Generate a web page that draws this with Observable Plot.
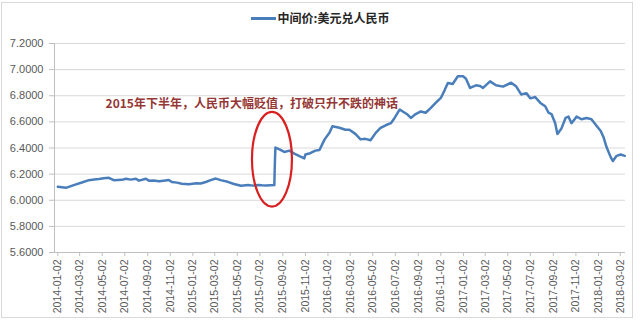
<!DOCTYPE html>
<html><head><meta charset="utf-8">
<script src="https://cdn.jsdelivr.net/npm/d3@7"></script>
<script src="https://cdn.jsdelivr.net/npm/@observablehq/plot@0.6"></script>
<style>
body{margin:0;background:#fff;width:640px;height:324px;overflow:hidden;position:relative;font-family:"Liberation Sans",Arial,sans-serif}
#frame{position:absolute;left:1px;top:2px;width:632px;height:316px;border:1px solid #d9d9d9;box-sizing:border-box}
#legend{position:absolute;top:9px;left:0;width:640px;text-align:center;font:bold 12px "Noto Sans CJK SC",sans-serif;color:#262626;line-height:18px}
#legend .sw{display:inline-block;width:25px;height:3px;background:#4A7EBB;vertical-align:middle;margin-right:2px;position:relative;top:-1px}
#chart{position:absolute;top:32px;left:0}
#chart svg g[aria-label^="x-axis"] text{font-size:10.5px}
#chart svg g[aria-label$="tick"] path, #chart svg g[aria-label$="axis"] line{stroke:#bfbfbf}
</style></head><body>
<div id="frame"></div>
<div id="legend"><span class="sw"></span><span id="legendText"></span></div>
<div id="chart"></div>
<script>
const seriesName = "中间价:美元兑人民币";
const dates = [
"2014-01-02","2014-01-24","2014-02-14","2014-03-08","2014-03-27","2014-04-10","2014-04-23","2014-05-06","2014-05-20",
"2014-06-02","2014-06-24","2014-07-05","2014-07-18","2014-08-01","2014-08-09","2014-08-28","2014-09-05","2014-09-18",
"2014-10-02","2014-10-15","2014-10-29","2014-11-06","2014-11-20","2014-12-03","2014-12-22","2015-01-12","2015-01-23",
"2015-02-06","2015-02-19","2015-03-05","2015-03-18","2015-04-06","2015-04-23","2015-05-12","2015-05-31","2015-06-14",
"2015-06-27","2015-07-08","2015-07-19","2015-08-10","2015-08-11","2015-08-12","2015-08-13","2015-08-24","2015-09-06",
"2015-09-20","2015-10-03","2015-10-17","2015-10-30","2015-11-02","2015-11-15","2015-11-29","2015-12-10","2015-12-24",
"2016-01-06","2016-01-14","2016-02-02","2016-02-18","2016-02-29","2016-03-16","2016-03-30","2016-04-12","2016-04-26",
"2016-05-10","2016-05-23","2016-06-06","2016-06-20","2016-06-30","2016-07-14","2016-07-22","2016-08-04","2016-08-13",
"2016-08-26","2016-09-09","2016-09-22","2016-10-06","2016-10-19","2016-11-02","2016-11-13","2016-11-21","2016-12-04",
"2016-12-18","2017-01-01","2017-01-09","2017-01-20","2017-02-05","2017-02-16","2017-02-24","2017-03-15","2017-03-31",
"2017-04-19","2017-05-11","2017-05-25","2017-06-07","2017-06-21","2017-07-02","2017-07-15","2017-07-29","2017-08-11",
"2017-08-20","2017-08-28","2017-09-07","2017-09-13","2017-09-24","2017-10-05","2017-10-13","2017-10-21","2017-11-04",
"2017-11-17","2017-12-01","2017-12-14","2017-12-25","2018-01-08","2018-01-16","2018-01-24","2018-02-04","2018-02-10",
"2018-02-20","2018-03-03","2018-03-14"
];
const values = [
6.103,6.095,6.116,6.136,6.154,6.158,6.162,6.168,6.172,
6.154,6.156,6.165,6.158,6.165,6.150,6.165,6.150,6.152,
6.145,6.150,6.155,6.140,6.135,6.127,6.122,6.130,6.128,
6.140,6.154,6.166,6.154,6.141,6.124,6.111,6.116,6.112,
6.116,6.114,6.113,6.116,6.230,6.330,6.403,6.390,6.370,
6.380,6.357,6.337,6.320,6.350,6.360,6.380,6.385,6.466,
6.516,6.566,6.555,6.540,6.540,6.508,6.466,6.470,6.460,
6.516,6.554,6.574,6.590,6.630,6.695,6.680,6.656,6.630,
6.660,6.680,6.670,6.707,6.745,6.783,6.847,6.898,6.890,
6.949,6.949,6.930,6.860,6.880,6.875,6.860,6.910,6.880,
6.870,6.900,6.870,6.810,6.820,6.780,6.790,6.745,6.720,
6.670,6.660,6.590,6.508,6.550,6.630,6.640,6.590,6.640,
6.620,6.630,6.620,6.580,6.530,6.480,6.405,6.330,6.300,
6.340,6.350,6.340
];
const xTicks = ["2014-01-02","2014-03-02","2014-05-02","2014-07-02","2014-09-02","2014-11-02",
"2015-01-02","2015-03-02","2015-05-02","2015-07-02","2015-09-02","2015-11-02",
"2016-01-02","2016-03-02","2016-05-02","2016-07-02","2016-09-02","2016-11-02",
"2017-01-02","2017-03-02","2017-05-02","2017-07-02","2017-09-02","2017-11-02",
"2018-01-02","2018-03-02"];
const yTicks = [5.6,5.8,6.0,6.2,6.4,6.6,6.8,7.0,7.2];
const xDomain = ["2013-12-24","2018-03-16"];
const annotationText = ["2015年下半年，人民币大幅贬值，打破只升不跌的神话"];
const annotationDate = ["2014-05-11"];
const annotationValue = [6.734];
const ellipseDates = ["2015-06-12","2015-09-28"];
const ellipseValues = [6.673,5.948];

document.getElementById("legendText").textContent = seriesName;
const data = dates.map((d,i) => ({date: new Date(d), value: values[i]}));
const notes = annotationText.map((t,i) => ({text: t, date: new Date(annotationDate[i]), value: annotationValue[i]}));
const plot = Plot.plot({
  width: 640, height: 288,
  marginLeft: 54, marginRight: 15, marginTop: 11, marginBottom: 68,
  style: {fontFamily: "'Liberation Sans', Arial, sans-serif", fontSize: "11px", color: "#595959", background: "transparent", overflow: "visible"},
  x: {type: "utc", domain: xDomain.map(d => new Date(d)), ticks: xTicks.map(d => new Date(d)), tickFormat: d3.utcFormat("%Y-%m-%d"), tickRotate: -90, tickSize: 4, tickPadding: 3, label: null},
  y: {domain: [yTicks[0], yTicks[yTicks.length-1]], ticks: yTicks, tickFormat: d => d.toFixed(4), tickSize: 5, tickPadding: 6, label: null},
  marks: [
    Plot.ruleY(yTicks.slice(1), {stroke: "#d9d9d9"}),
    Plot.ruleY([yTicks[0]], {stroke: "#bfbfbf"}),
    Plot.ruleX([new Date(xDomain[0])], {stroke: "#bfbfbf"}),
    Plot.line(data, {x: "date", y: "value", stroke: "#4A7EBB", strokeWidth: 2.5, strokeLinejoin: "round"}),
    Plot.text(notes, {x: "date", y: "value", text: "text", textAnchor: "start", fill: "#953735", fontSize: 12, fontWeight: "bold", fontFamily: "'Noto Sans CJK SC', sans-serif"})
  ]
});
const sx = plot.scale("x"), sy = plot.scale("y");
const ex1 = sx.apply(new Date(ellipseDates[0])), ex2 = sx.apply(new Date(ellipseDates[1]));
const ey1 = sy.apply(ellipseValues[0]), ey2 = sy.apply(ellipseValues[1]);
d3.select(plot).append("ellipse")
  .attr("cx", (ex1+ex2)/2).attr("cy", (ey1+ey2)/2)
  .attr("rx", Math.abs(ex2-ex1)/2).attr("ry", Math.abs(ey2-ey1)/2)
  .attr("fill", "none").attr("stroke", "#D92020").attr("stroke-width", 2.2);
document.getElementById("chart").appendChild(plot);
</script>
</body></html>
